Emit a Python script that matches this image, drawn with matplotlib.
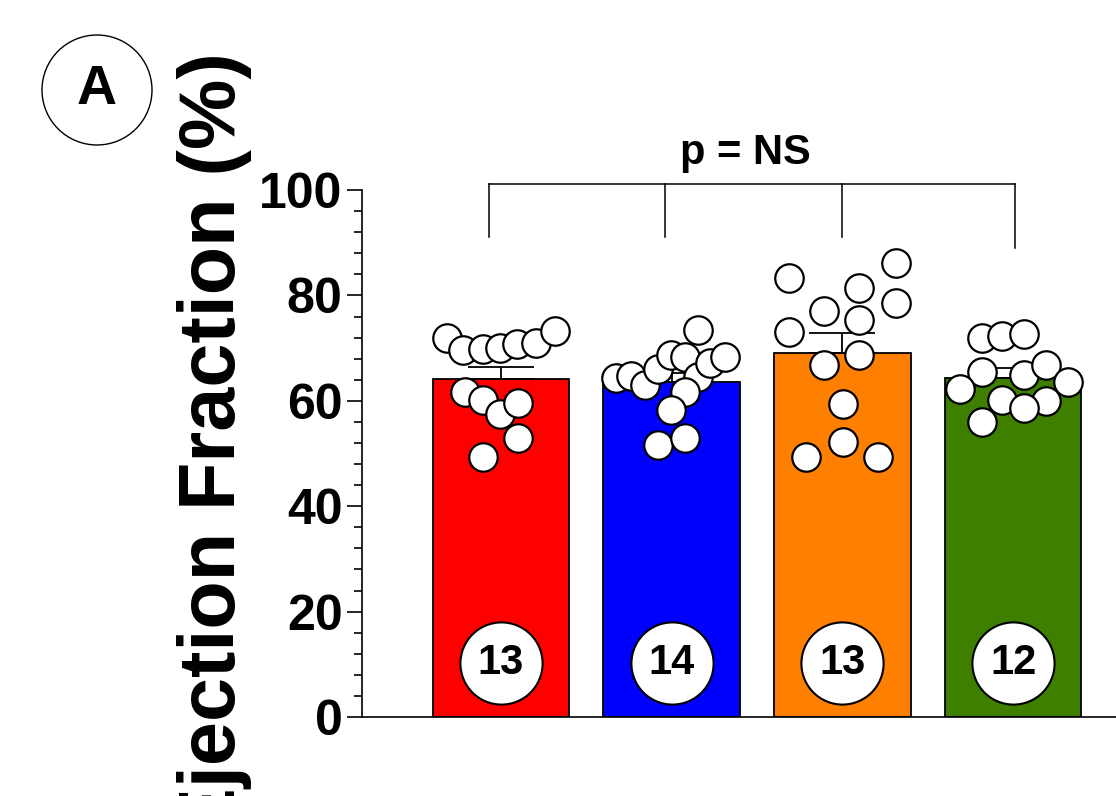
import numpy as np
import matplotlib
matplotlib.use("Agg")
import matplotlib.pyplot as plt

plt.rcParams['font.family'] = ['Liberation Sans', 'DejaVu Sans']
plt.rcParams['font.weight'] = 'bold'

# data
groups = ['G1', 'G2', 'G3', 'G4']
means = [64.1, 63.6, 69.1, 64.3]
sems = [2.3, 1.7, 3.8, 1.9]
n_labels = ['13', '14', '13', '12']
colors = ['#ff0000', '#0000ff', '#ff8000', '#3f7f00']

g1_vals = [72.0, 69.6, 69.8, 70.0, 70.7, 70.9, 73.3, 61.7, 60.2, 57.6, 59.6, 52.9, 49.4]
g1_jit = [-0.318, -0.223, -0.107, -0.006, 0.092, 0.205, 0.316, -0.211, -0.104, -0.006, 0.101, 0.101, -0.104]
g2_vals = [64.4, 64.7, 63.0, 66.1, 68.7, 68.4, 73.4, 64.6, 67.1, 68.4, 61.7, 58.3, 51.6, 52.9]
g2_jit = [-0.324, -0.236, -0.158, -0.080, -0.002, 0.076, 0.154, 0.154, 0.223, 0.310, 0.076, -0.002, -0.080, 0.076]
g3_vals = [83.4, 86.1, 81.5, 78.5, 77.0, 75.3, 73.1, 68.7, 66.8, 59.5, 52.2, 49.3, 49.3]
g3_jit = [-0.315, 0.315, 0.100, 0.315, -0.105, 0.100, -0.315, 0.100, -0.105, 0.002, 0.002, -0.213, 0.207]
g4_vals = [71.9, 72.4, 72.6, 65.5, 65.0, 66.9, 62.2, 63.6, 60.2, 60.0, 58.7, 55.9]
g4_jit = [-0.183, -0.063, 0.066, -0.183, 0.066, 0.192, -0.310, 0.320, -0.063, 0.192, 0.066, -0.183]

points = [(g1_vals, g1_jit), (g2_vals, g2_jit), (g3_vals, g3_jit), (g4_vals, g4_jit)]

fig = plt.figure(figsize=(11.16, 7.96), dpi=100)
ax = fig.add_axes([0.3244, 0.0992, 0.6756, 0.662])

x = np.arange(len(groups))
ax.bar(x, means, width=0.8, color=colors, edgecolor='black', linewidth=1.3, zorder=2)

# SEM (upper only)
ax.errorbar(x, means, yerr=[np.zeros(len(sems)), sems], fmt='none', ecolor='black',
            elinewidth=1.3, capsize=24, capthick=1.3, zorder=3)

for i, (vals, jit) in enumerate(points):
    ax.scatter(i + np.array(jit), vals, s=420, facecolor='white', edgecolor='black',
               linewidth=1.6, zorder=4, clip_on=False)

# n per group
ax.scatter(x, [10.2] * len(x), s=3500, facecolor='white', edgecolor='black', linewidth=1.5, zorder=5)
for i, n in enumerate(n_labels):
    ax.text(i, 10.2, n, ha='center', va='center', fontsize=30, fontweight='bold', zorder=6)

# significance bracket
br_x = [-0.07, 0.96, 2.0, 3.01]
br_bottom = [91.1, 91.1, 91.1, 89.0]
ax.plot([br_x[0], br_x[-1]], [101.1, 101.1], color='black', lw=1.1, clip_on=False)
for bx, bb in zip(br_x, br_bottom):
    ax.plot([bx, bx], [bb, 101.1], color='black', lw=1.1, clip_on=False)
ax.text(1.43, 103.3, 'p = NS', ha='center', va='bottom', fontsize=30, fontweight='bold')

ax.set_xlim(-0.814, 3.603)
ax.set_ylim(0, 100)
ax.set_yticks(np.arange(0, 101, 20))
ax.set_yticks(np.arange(0, 101, 4), minor=True)
ax.tick_params(axis='y', which='major', length=11, width=1.2, pad=3, labelsize=36)
ax.tick_params(axis='y', which='minor', length=6, width=1.2)
ax.set_xticks([])
for lab in ax.get_yticklabels():
    lab.set_fontweight('bold')
ax.spines['top'].set_visible(False)
ax.spines['right'].set_visible(False)
ax.spines['left'].set_linewidth(1.2)
ax.spines['bottom'].set_linewidth(1.2)

fig.text(252 / 1116, 1 - 52 / 796, 'Ejection Fraction (%)', rotation=90, ha='right', va='top',
         fontsize=57, fontweight='bold')

# panel letter
circ = matplotlib.patches.Ellipse((97 / 1116, 1 - 90 / 796), 110 / 1116, 110 / 796,
                                  transform=fig.transFigure, facecolor='none', edgecolor='black', lw=1.0)
fig.patches.append(circ)
fig.text(97 / 1116, 1 - 90 / 796, 'A', ha='center', va='center', fontsize=40, fontweight='bold')

fig.savefig('out.png', dpi=100, facecolor='white')
